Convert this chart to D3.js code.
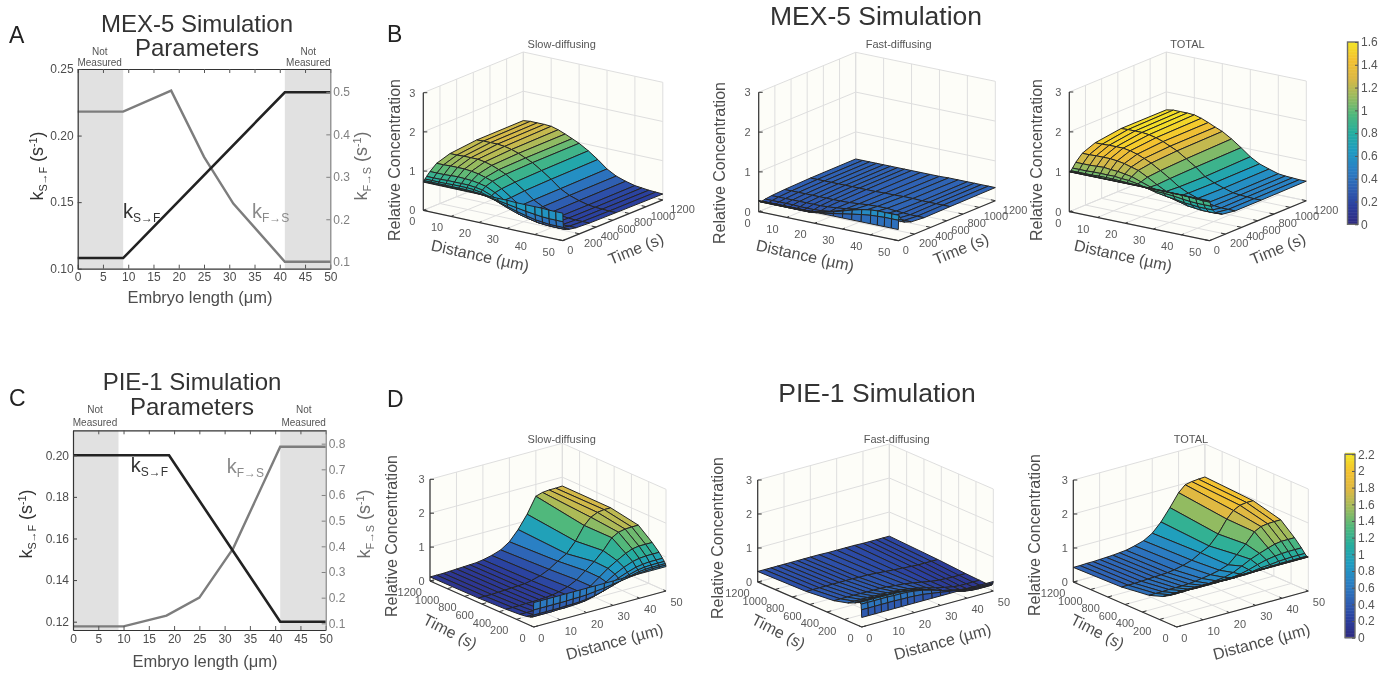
<!DOCTYPE html>
<html>
<head>
<meta charset="utf-8">
<title>MEX-5 and PIE-1 simulation</title>
<script src="https://cdn.jsdelivr.net/npm/d3@7"></script>
<style>
  html, body { margin: 0; background: #fff; }
  svg { display: block; font-family: "Liberation Sans", Arial, sans-serif; filter: blur(0.45px); }
</style>
</head>
<body>
<div id="chart"></div>
<script>
// Rate constants along the embryo (panels A and C)
const mexKsf = [[0, 0.108], [9, 0.108], [41, 0.2325], [50, 0.2325]];
const mexKfs = [[0, 0.4535], [9, 0.4535], [18.5, 0.503], [25, 0.347], [30.8, 0.237], [41, 0.1], [50, 0.1]];
const pieKsf = [[0, 0.2], [19, 0.2], [41, 0.12], [50, 0.12]];
const pieKfs = [[0, 0.088], [10, 0.088], [18.5, 0.13], [25, 0.2], [31.7, 0.392], [41, 0.788], [50, 0.788]];

// Surface grid: one row per time, one column per distance
const distances = [0, 2.5, 5, 7.5, 10, 12.5, 15, 17.5, 20, 23.3, 26.7, 30, 33.3, 36.7, 40, 42.5, 45, 47.5, 50];
const times = [0, 3, 8, 20, 40, 80, 160, 320, 640, 1200];

const mexSlow = [
  [.72,.72,.72,.72,.72,.72,.72,.72,.72,.72,.72,.72,.71,.71,.71,.71,.70,.70,.70],
  [.73,.73,.73,.73,.73,.73,.73,.73,.72,.70,.66,.62,.58,.54,.51,.49,.48,.48,.48],
  [.75,.75,.75,.75,.75,.75,.75,.74,.73,.68,.62,.55,.48,.42,.37,.35,.33,.33,.33],
  [.78,.78,.78,.78,.79,.79,.79,.78,.75,.68,.58,.49,.41,.35,.30,.28,.27,.27,.27],
  [.83,.83,.83,.84,.84,.84,.84,.82,.79,.70,.59,.47,.38,.32,.27,.26,.25,.25,.25],
  [.92,.92,.92,.93,.94,.93,.92,.89,.85,.74,.60,.45,.35,.28,.24,.23,.22,.22,.22],
  [1.06,1.06,1.07,1.07,1.07,1.05,1.02,.97,.91,.77,.60,.44,.33,.26,.21,.20,.19,.19,.19],
  [1.17,1.17,1.18,1.18,1.18,1.15,1.10,1.03,.95,.80,.63,.45,.33,.25,.20,.18,.17,.17,.17],
  [1.24,1.25,1.25,1.25,1.23,1.19,1.13,1.05,.97,.82,.65,.46,.34,.26,.20,.18,.17,.16,.16],
  [1.25,1.27,1.27,1.27,1.26,1.21,1.14,1.06,.98,.84,.67,.48,.35,.27,.21,.19,.17,.16,.15]
];
const mexFast = [
  [.28,.28,.28,.28,.28,.28,.28,.28,.28,.28,.28,.28,.28,.28,.28,.28,.28,.28,.28],
  [.27,.27,.27,.27,.27,.27,.27,.27,.28,.30,.34,.38,.42,.46,.49,.50,.51,.51,.51],
  [.25,.25,.25,.25,.25,.25,.25,.25,.27,.32,.38,.45,.52,.58,.62,.63,.63,.63,.63],
  [.23,.23,.23,.23,.23,.23,.23,.23,.25,.31,.38,.45,.51,.56,.58,.58,.58,.58,.58],
  [.23,.23,.23,.23,.23,.23,.23,.23,.25,.29,.35,.41,.46,.49,.50,.50,.49,.49,.49],
  [.25,.25,.25,.25,.25,.24,.24,.24,.25,.28,.34,.40,.43,.44,.42,.41,.40,.40,.40],
  [.27,.27,.27,.27,.27,.27,.27,.27,.28,.30,.33,.37,.38,.39,.38,.36,.35,.34,.34],
  [.29,.29,.29,.29,.29,.29,.29,.29,.29,.30,.32,.34,.35,.35,.33,.32,.31,.31,.31],
  [.31,.31,.31,.31,.31,.31,.31,.31,.31,.31,.32,.32,.33,.33,.32,.32,.32,.32,.32],
  [.32,.32,.32,.32,.32,.32,.32,.32,.32,.32,.32,.32,.33,.33,.33,.33,.33,.33,.33]
];
const mexTotal = [
  [1,1,1,1,1,1,1,1,1,1,1,1,1,1,1,1,1,1,1],
  [1,1,1,1,1,1,1,1,1,1,1,1,1,1,1,.99,.99,.99,.99],
  [1,1,1,1,1,1,1,1,1,1,1,1,1,.99,.99,.98,.97,.96,.96],
  [1.01,1.01,1.01,1.01,1.02,1.02,1.02,1.01,1,.99,.97,.94,.93,.91,.88,.86,.85,.85,.85],
  [1.06,1.06,1.06,1.07,1.07,1.07,1.07,1.05,1.04,1,.94,.88,.84,.81,.77,.76,.74,.74,.74],
  [1.17,1.17,1.17,1.18,1.19,1.17,1.16,1.13,1.10,1.02,.94,.85,.78,.72,.66,.64,.62,.62,.62],
  [1.33,1.33,1.34,1.34,1.34,1.32,1.29,1.24,1.19,1.07,.93,.81,.71,.65,.59,.56,.54,.53,.53],
  [1.46,1.46,1.47,1.47,1.47,1.44,1.39,1.32,1.24,1.10,.95,.79,.68,.60,.53,.50,.48,.48,.48],
  [1.55,1.56,1.56,1.56,1.54,1.50,1.44,1.36,1.28,1.13,.97,.78,.67,.59,.52,.50,.49,.48,.48],
  [1.55,1.58,1.58,1.58,1.57,1.52,1.45,1.37,1.30,1.16,.99,.81,.68,.60,.53,.51,.50,.49,.49]
];
const pieSlow = [
  [.72,.72,.72,.72,.72,.72,.72,.72,.72,.72,.72,.72,.72,.72,.72,.72,.72,.72,.72],
  [.50,.50,.50,.50,.50,.50,.51,.51,.52,.55,.58,.62,.66,.70,.73,.75,.76,.76,.76],
  [.34,.34,.34,.34,.34,.35,.35,.36,.38,.42,.49,.57,.65,.71,.77,.79,.80,.80,.80],
  [.27,.27,.27,.27,.28,.28,.29,.30,.32,.38,.46,.55,.65,.74,.81,.84,.85,.85,.85],
  [.25,.25,.25,.25,.26,.26,.27,.28,.30,.36,.45,.56,.69,.79,.87,.90,.92,.92,.92],
  [.22,.22,.22,.23,.23,.24,.25,.26,.29,.35,.46,.60,.76,.89,.99,1.03,1.05,1.05,1.05],
  [.19,.19,.19,.20,.20,.21,.22,.23,.27,.34,.46,.65,.84,1,1.14,1.22,1.25,1.25,1.25],
  [.16,.16,.16,.17,.17,.18,.19,.21,.25,.33,.46,.66,.86,1.11,1.42,1.53,1.57,1.58,1.58],
  [.13,.13,.13,.14,.15,.16,.17,.18,.22,.29,.41,.58,.73,1.03,1.42,1.61,1.70,1.73,1.73],
  [.12,.12,.12,.13,.14,.15,.16,.17,.20,.26,.35,.52,.81,1.19,1.65,1.71,1.73,1.73,1.74]
];
const pieFast = [
  [.28,.28,.28,.28,.28,.28,.28,.28,.28,.28,.28,.28,.28,.28,.28,.28,.28,.28,.28],
  [.50,.50,.50,.50,.50,.50,.49,.49,.48,.46,.42,.38,.34,.30,.27,.25,.24,.24,.24],
  [.66,.66,.66,.66,.66,.65,.65,.64,.62,.58,.51,.43,.35,.29,.23,.21,.20,.20,.20],
  [.70,.70,.70,.70,.69,.69,.68,.66,.63,.57,.49,.41,.32,.25,.19,.16,.15,.15,.15],
  [.68,.68,.68,.68,.67,.67,.66,.64,.61,.55,.47,.39,.30,.23,.17,.15,.14,.14,.14],
  [.62,.62,.62,.62,.61,.60,.59,.58,.56,.51,.44,.36,.28,.22,.16,.14,.13,.13,.13],
  [.53,.53,.53,.53,.52,.52,.51,.50,.49,.45,.40,.34,.27,.21,.16,.14,.14,.14,.14],
  [.42,.42,.42,.42,.42,.41,.41,.41,.40,.37,.35,.31,.26,.21,.18,.17,.16,.16,.16],
  [.34,.34,.34,.34,.34,.34,.34,.34,.33,.33,.31,.29,.27,.25,.23,.22,.22,.22,.22],
  [.31,.31,.31,.31,.31,.31,.31,.31,.31,.31,.30,.30,.30,.30,.29,.29,.29,.29,.29]
];
const pieTotal = [
  [1,1,1,1,1,1,1,1,1,1,1,1,1,1,1,1,1,1,1],
  [1,1,1,1,1,1,1,1,1,1,1,1,1,1,1,1,1,1,1],
  [1,1,1,1,1,1,1,1,1,1,1,1,1,1,1,1,1,1,1],
  [.97,.97,.97,.97,.97,.97,.97,.96,.95,.95,.95,.96,.97,.99,1,1,1,1,1],
  [.93,.93,.93,.93,.93,.93,.93,.92,.91,.91,.93,.95,.99,1.01,1.04,1.05,1.06,1.06,1.06],
  [.84,.84,.84,.85,.84,.84,.84,.84,.85,.86,.90,.96,1.04,1.11,1.15,1.17,1.18,1.18,1.18],
  [.72,.72,.72,.73,.72,.73,.73,.73,.76,.79,.86,.98,1.11,1.21,1.30,1.36,1.39,1.39,1.39],
  [.58,.58,.58,.59,.59,.59,.60,.62,.65,.69,.75,.84,1.07,1.31,1.60,1.70,1.73,1.74,1.74],
  [.47,.47,.47,.48,.49,.50,.51,.52,.55,.61,.69,.84,.97,1.25,1.62,1.82,1.92,1.95,1.95],
  [.43,.43,.44,.44,.45,.46,.47,.49,.51,.57,.65,.80,1.06,1.41,1.78,1.96,2,2.02,2.03]
];

// Tick labels
const distanceTicks = [0, 10, 20, 30, 40, 50];
const timeTicks = [0, 200, 400, 600, 800, 1000, 1200];
const concTicks = [0, 1, 2, 3];
const mexBarTicks = [0, 0.2, 0.4, 0.6, 0.8, 1, 1.2, 1.4, 1.6];
const pieBarTicks = [0, 0.2, 0.4, 0.6, 0.8, 1, 1.2, 1.4, 1.6, 1.8, 2, 2.2];

// Colour map of the surfaces and colour bars
const parula = ["#2f2a80", "#2b3f9e", "#2f62b4", "#2a80c4", "#1f9cc2", "#25ad9f", "#4fb87c", "#9bbb5e", "#dcb845", "#f4c12f", "#f3e626"];

const svg = d3.select("#chart").append("svg").attr("width", 1392).attr("height", 675);

const TEXT = "#4d4d4d";
const GREY = "#808080";

function subLabel(g, x, y, sub, tail, size, fill, rotate) {
  // k with a subscript, optionally followed by the unit
  const t = g.append("text")
    .attr("transform", "translate(" + x + "," + y + ")" + (rotate ? " rotate(-90)" : ""))
    .attr("text-anchor", rotate ? "middle" : "start")
    .attr("fill", fill)
    .style("font-size", size + "px");
  t.append("tspan").text("k");
  t.append("tspan").attr("dy", size * 0.2).style("font-size", size * 0.6 + "px").text(sub);
  if (tail) {
    t.append("tspan").attr("dy", -size * 0.2).text(" (s");
    t.append("tspan").attr("dy", -size * 0.32).style("font-size", size * 0.6 + "px").text("-1");
    t.append("tspan").attr("dy", size * 0.32).text(")");
  }
}

function drawParams(p) {
  const g = svg.append("g");
  const x = d3.scaleLinear().domain([0, 50]).range([p.left, p.right]);
  const yL = d3.scaleLinear().domain(p.leftDomain).range([p.bottom, p.top]);
  const yR = d3.scaleLinear().domain(p.rightDomain).range([p.bottom, p.top]);

  g.selectAll("rect.shade").data([[0, 9], [41, 50]]).join("rect")
    .attr("class", "shade")
    .attr("x", d => x(d[0])).attr("y", p.top)
    .attr("width", d => x(d[1]) - x(d[0])).attr("height", p.bottom - p.top)
    .attr("fill", "#e1e1e1");

  const lineL = d3.line().x(d => x(d[0])).y(d => yL(d[1]));
  const lineR = d3.line().x(d => x(d[0])).y(d => yR(d[1]));

  g.append("path").datum(p.fs).attr("d", lineR).attr("fill", "none").attr("stroke", "#7d7d7d").attr("stroke-width", 2.4);
  g.append("path").datum(p.sf).attr("d", lineL).attr("fill", "none").attr("stroke", "#222").attr("stroke-width", 2.6);

  const xAxis = d3.axisBottom(x).tickValues(d3.range(0, 51, 5)).tickSize(-4).tickSizeOuter(0).tickPadding(4);
  const gx = g.append("g").attr("transform", "translate(0," + p.bottom + ")").call(xAxis);
  gx.select(".domain").attr("stroke", "#333").attr("stroke-width", 1.2);
  gx.selectAll("line").attr("stroke", "#555");
  gx.selectAll("text").attr("fill", TEXT).style("font-size", "12px").attr("font-family", "inherit");

  const topAxis = d3.axisTop(x).tickValues(d3.range(0, 51, 5)).tickSize(-4).tickSizeOuter(0).tickFormat("");
  const gt = g.append("g").attr("transform", "translate(0," + p.top + ")").call(topAxis);
  gt.select(".domain").attr("stroke", "#333").attr("stroke-width", 1.2);
  gt.selectAll("line").attr("stroke", "#555");

  const leftAxis = d3.axisLeft(yL).tickValues(p.leftTicks).tickSize(-4).tickSizeOuter(0).tickPadding(4).tickFormat(d3.format(".2f"));
  const gl = g.append("g").attr("transform", "translate(" + p.left + ",0)").call(leftAxis);
  gl.select(".domain").attr("stroke", "#333").attr("stroke-width", 1.2);
  gl.selectAll("line").attr("stroke", "#444");
  gl.selectAll("text").attr("fill", TEXT).style("font-size", "12px").attr("font-family", "inherit");

  const rightAxis = d3.axisRight(yR).tickValues(p.rightTicks).tickSize(-4).tickSizeOuter(0).tickPadding(3).tickFormat(d3.format(".1f"));
  const gr = g.append("g").attr("transform", "translate(" + p.right + ",0)").call(rightAxis);
  gr.select(".domain").attr("stroke", GREY).attr("stroke-width", 1.2);
  gr.selectAll("line").attr("stroke", GREY);
  gr.selectAll("text").attr("fill", GREY).style("font-size", "12px").attr("font-family", "inherit");

  // Titles and labels
  g.append("text").attr("x", p.titleX).attr("y", p.titleY).attr("text-anchor", "middle").attr("fill", "#333")
    .style("font-size", "24px").text(p.title);
  g.append("text").attr("x", p.titleX).attr("y", p.titleY + 24.5).attr("text-anchor", "middle").attr("fill", "#333")
    .style("font-size", "24px").text("Parameters");
  g.append("text").attr("x", p.letterX).attr("y", p.letterY).attr("fill", "#222").style("font-size", "23px").text(p.letter);
  g.append("text").attr("x", p.xLabel[0]).attr("y", p.xLabel[1]).attr("text-anchor", "middle").attr("fill", TEXT)
    .style("font-size", "16.5px").text("Embryo length (\u03bcm)");

  [p.left + 22, p.right - 22].forEach(cx => {
    g.append("text").attr("x", cx).attr("y", p.notY[0]).attr("text-anchor", "middle").attr("fill", "#555").style("font-size", "10px").text("Not");
    g.append("text").attr("x", cx).attr("y", p.notY[1]).attr("text-anchor", "middle").attr("fill", "#555").style("font-size", "10px").text("Measured");
  });

  subLabel(g, p.leftLabel[0], p.leftLabel[1], "S\u2192F", true, 18, "#333", true);
  subLabel(g, p.rightLabel[0], p.rightLabel[1], "F\u2192S", true, 18, "#6e6e6e", true);
  subLabel(g, p.sfX, p.sfY, "S\u2192F", false, 20, "#333", false);
  subLabel(g, p.fsX, p.fsY, "F\u2192S", false, 20, "#8a8a8a", false);
}

function drawSurface(p) {
  const g = svg.append("g");
  const xD = d3.scaleLinear().domain([0, 50]).range([0, p.dVec[0]]);
  const yD = d3.scaleLinear().domain([0, 50]).range([0, p.dVec[1]]);
  const xT = d3.scaleLinear().domain([0, 1200]).range([0, p.tVec[0]]);
  const yT = d3.scaleLinear().domain([0, 1200]).range([0, p.tVec[1]]);
  const zS = d3.scaleLinear().domain([0, 3]).range([0, -p.zLen]);
  const color = d3.scaleLinear()
    .domain(parula.map((c, i) => i / (parula.length - 1) * p.colorMax))
    .range(parula).clamp(true);

  const px = (d, t) => p.base[0] + xD(d) + xT(t);
  const py = (d, t, z) => p.base[1] + yD(d) + yT(t) + zS(z);
  const pt = (d, t, z) => [px(d, t), py(d, t, z)];
  const line = d3.line();

  // Back walls
  const wallD = p.wallD;
  g.append("path").attr("d", line([pt(wallD, 0, 0), pt(wallD, 1200, 0), pt(wallD, 1200, 3), pt(wallD, 0, 3)]) + "Z").attr("fill", "#fdfdf8");
  g.append("path").attr("d", line([pt(0, 1200, 0), pt(50, 1200, 0), pt(50, 1200, 3), pt(0, 1200, 3)]) + "Z").attr("fill", "#fdfdf8");
  g.append("path").attr("d", line([pt(0, 0, 0), pt(50, 0, 0), pt(50, 1200, 0), pt(0, 1200, 0)]) + "Z").attr("fill", "#fdfdf8");

  // Grid lines
  const grid = [];
  distanceTicks.forEach(d => {
    grid.push([pt(d, 0, 0), pt(d, 1200, 0)]);
    grid.push([pt(d, 1200, 0), pt(d, 1200, 3)]);
  });
  timeTicks.forEach(t => {
    grid.push([pt(0, t, 0), pt(50, t, 0)]);
    grid.push([pt(wallD, t, 0), pt(wallD, t, 3)]);
  });
  concTicks.forEach(z => {
    grid.push([pt(0, 1200, z), pt(50, 1200, z)]);
    grid.push([pt(wallD, 0, z), pt(wallD, 1200, z)]);
  });
  g.append("g").selectAll("path").data(grid).join("path")
    .attr("d", line).attr("fill", "none").attr("stroke", "#dedede").attr("stroke-width", 1);

  // Axes in front
  const axes = [[pt(p.zAxisD, p.zAxisT, 0), pt(p.zAxisD, p.zAxisT, 3)], [pt(0, 0, 0), pt(50, 0, 0)], [pt(p.tAxisD, 0, 0), pt(p.tAxisD, 1200, 0)]];
  g.append("g").selectAll("path").data(axes).join("path")
    .attr("d", line).attr("fill", "none").attr("stroke", "#333").attr("stroke-width", 1.2);

  const ticks = [];
  distanceTicks.forEach(d => ticks.push([pt(d, 0, 0), pt(d, 30, 0)]));
  timeTicks.forEach(t => ticks.push([pt(p.tAxisD, t, 0), pt(p.tAxisD + (p.tAxisD ? -1.6 : 1.6), t, 0)]));
  g.append("g").selectAll("path").data(ticks).join("path")
    .attr("d", line).attr("fill", "none").attr("stroke", "#333").attr("stroke-width", 1);
  const zTicks = concTicks.map(z => [pt(p.zAxisD, p.zAxisT, z), [px(p.zAxisD, p.zAxisT) + 4, py(p.zAxisD, p.zAxisT, z)]]);
  g.append("g").selectAll("path").data(zTicks).join("path")
    .attr("d", line).attr("fill", "none").attr("stroke", "#333").attr("stroke-width", 1);

  // Surface faces, far ones first
  const faces = [];
  for (let i = 0; i < times.length - 1; i++) {
    for (let j = 0; j < distances.length - 1; j++) {
      const corners = [[j, i], [j + 1, i], [j + 1, i + 1], [j, i + 1]];
      const d0 = (distances[j] + distances[j + 1]) / 2;
      const t0 = (times[i] + times[i + 1]) / 2;
      faces.push({
        points: corners.map(c => pt(distances[c[0]], times[c[1]], p.values[c[1]][c[0]])),
        value: d3.mean(corners, c => p.values[c[1]][c[0]]),
        depth: yD(d0) + yT(t0)
      });
    }
  }
  faces.sort((a, b) => a.depth - b.depth);
  g.append("g").selectAll("path").data(faces).join("path")
    .attr("d", f => line(f.points) + "Z")
    .attr("fill", f => color(f.value))
    .attr("stroke", "#242424").attr("stroke-width", 1).attr("stroke-linejoin", "round");

  // Tick labels
  const tick = { fill: "#5a5a5a", size: "11px" };
  g.append("g").selectAll("text").data(distanceTicks).join("text")
    .attr("x", d => px(d, 0) + p.dLabel[0]).attr("y", d => py(d, 0, 0) + p.dLabel[1])
    .attr("text-anchor", p.dLabel[0] < 0 ? "end" : "start").attr("fill", tick.fill).style("font-size", tick.size).text(d => d);
  g.append("g").selectAll("text").data(timeTicks).join("text")
    .attr("x", t => px(p.tAxisD, t) + p.tLabel[0] + (t === 1200 ? p.lastNudge : 0)).attr("y", t => py(p.tAxisD, t, 0) + p.tLabel[1])
    .attr("text-anchor", p.tLabel[0] < 0 ? "end" : "start").attr("fill", tick.fill).style("font-size", tick.size).text(t => t);
  g.append("g").selectAll("text").data(concTicks).join("text")
    .attr("x", px(p.zAxisD, p.zAxisT) - p.zLabelGap).attr("y", z => py(p.zAxisD, p.zAxisT, z) + 4)
    .attr("text-anchor", "end").attr("fill", tick.fill).style("font-size", tick.size).text(z => z);

  // Axis titles
  g.append("text").attr("x", p.title[0]).attr("y", p.title[1]).attr("text-anchor", "middle").attr("fill", "#555")
    .style("font-size", "11px").text(p.name);
  g.append("text").attr("transform", "translate(" + p.zTitle[0] + "," + p.zTitle[1] + ") rotate(-90)").attr("text-anchor", "middle")
    .attr("fill", TEXT).style("font-size", "16px").text("Relative Concentration");
  g.append("text").attr("transform", "translate(" + p.dTitle[0] + "," + p.dTitle[1] + ") rotate(" + p.dTitle[2] + ")").attr("text-anchor", "middle")
    .attr("fill", TEXT).style("font-size", "16px").text("Distance (\u00b5m)");
  g.append("text").attr("transform", "translate(" + p.tTitle[0] + "," + p.tTitle[1] + ") rotate(" + p.tTitle[2] + ")").attr("text-anchor", "middle")
    .attr("fill", TEXT).style("font-size", "16px").text("Time (s)");
}

function drawColorbar(p) {
  const g = svg.append("g");
  const y = d3.scaleLinear().domain([0, p.max]).range([p.bottom, p.top]);
  const color = d3.scaleLinear()
    .domain(parula.map((c, i) => i / (parula.length - 1) * p.max))
    .range(parula);
  const steps = d3.range(0, p.max, p.max / 120);
  g.selectAll("rect.step").data(steps).join("rect")
    .attr("class", "step").attr("x", p.left).attr("width", p.width)
    .attr("y", d => y(d + p.max / 120)).attr("height", (p.bottom - p.top) / 120 + 0.5)
    .attr("fill", d => color(d));
  g.append("rect").attr("x", p.left).attr("y", p.top).attr("width", p.width).attr("height", p.bottom - p.top)
    .attr("fill", "none").attr("stroke", "#6b6b6b").attr("stroke-width", 1.4);
  const axis = d3.axisRight(y).tickValues(p.ticks).tickSize(-3).tickSizeOuter(0).tickPadding(3).tickFormat(d => d);
  const ga = g.append("g").attr("transform", "translate(" + (p.left + p.width) + ",0)").call(axis);
  ga.select(".domain").remove();
  ga.selectAll("line").attr("stroke", "#555");
  ga.selectAll("text").attr("fill", "#555").style("font-size", "12px").attr("font-family", "inherit");
}

drawParams({
  left: 77.7, right: 330.3, top: 69, bottom: 268.7,
  leftDomain: [0.1, 0.25], rightDomain: [0.0835, 0.554],
  leftTicks: [0.1, 0.15, 0.2, 0.25], rightTicks: [0.1, 0.2, 0.3, 0.4, 0.5],
  sf: mexKsf, fs: mexKfs, title: "MEX-5 Simulation", titleX: 197, titleY: 31.7,
  letter: "A", letterX: 9, letterY: 43, xLabel: [200, 303], notY: [55, 65.5],
  leftLabel: [43, 166], rightLabel: [367, 166],
  sfX: 123, sfY: 218, fsX: 252, fsY: 218
});
drawParams({
  left: 73, right: 325.7, top: 430.3, bottom: 630,
  leftDomain: [0.116, 0.212], rightDomain: [0.074, 0.852],
  leftTicks: [0.12, 0.14, 0.16, 0.18, 0.2], rightTicks: [0.1, 0.2, 0.3, 0.4, 0.5, 0.6, 0.7, 0.8],
  sf: pieKsf, fs: pieKfs, title: "PIE-1 Simulation", titleX: 192, titleY: 390,
  letter: "C", letterX: 9, letterY: 406, xLabel: [205, 667], notY: [412.7, 426],
  leftLabel: [32, 524], rightLabel: [370, 524],
  sfX: 130.7, sfY: 472, fsX: 226.7, fsY: 473
});

const mexView = { wallD: 0, zAxisD: 0, zAxisT: 0, tAxisD: 50, dLabel: [-8, 15], tLabel: [4.5, 13], zLabelGap: 8, lastNudge: 3 };
const pieView = { wallD: 50, zAxisD: 0, zAxisT: 1200, tAxisD: 0, dLabel: [4.5, 15], tLabel: [-8, 15], zLabelGap: 5.5, lastNudge: 0 };

drawSurface(Object.assign({}, mexView, {
  name: "Slow-diffusing", values: mexSlow, colorMax: 1.6,
  base: [423.3, 210.3], dVec: [139.5, 30.3], tVec: [100, -40.7], zLen: 117.6,
  title: [561.7, 48], zTitle: [400, 160], dTitle: [479, 261, 12.3], tTitle: [638, 254, -22]
}));
drawSurface(Object.assign({}, mexView, {
  name: "Fast-diffusing", values: mexFast, colorMax: 1.6,
  base: [758.7, 211.7], dVec: [139.6, 29], tVec: [97, -40], zLen: 119.4,
  title: [898.7, 48], zTitle: [725, 163], dTitle: [804, 261, 12.3], tTitle: [963, 254, -22]
}));
drawSurface(Object.assign({}, mexView, {
  name: "TOTAL", values: mexTotal, colorMax: 1.6,
  base: [1069.3, 211.7], dVec: [140, 29], tVec: [97, -40], zLen: 119.7,
  title: [1187.5, 48], zTitle: [1042, 160], dTitle: [1122, 261, 12.3], tTitle: [1280, 254, -22]
}));
drawSurface(Object.assign({}, pieView, {
  name: "Slow-diffusing", values: pieSlow, colorMax: 2.2,
  base: [533.7, 627], dVec: [132.3, -36], tVec: [-103.7, -46], zLen: 101.7,
  title: [561.7, 443], zTitle: [397, 536], dTitle: [616, 647, -15], tTitle: [447.7, 636.5, 27]
}));
drawSurface(Object.assign({}, pieView, {
  name: "Fast-diffusing", values: pieFast, colorMax: 2.2,
  base: [861.7, 627], dVec: [131.6, -36], tVec: [-104, -45], zLen: 102,
  title: [896.7, 443], zTitle: [723, 538], dTitle: [944, 647, -15], tTitle: [776, 636.5, 27]
}));
drawSurface(Object.assign({}, pieView, {
  name: "TOTAL", values: pieTotal, colorMax: 2.2,
  base: [1176.7, 627], dVec: [131.6, -36], tVec: [-103.4, -45], zLen: 102,
  title: [1191, 443], zTitle: [1040, 535], dTitle: [1263, 647, -15], tTitle: [1095, 636.5, 27]
}));

drawColorbar({ left: 1347.5, width: 10.5, top: 42, bottom: 224.3, max: 1.6, ticks: mexBarTicks });
drawColorbar({ left: 1345, width: 10, top: 454.3, bottom: 637.7, max: 2.2, ticks: pieBarTicks });

// Figure-level titles
svg.append("text").attr("x", 876).attr("y", 25).attr("text-anchor", "middle").attr("fill", "#333").style("font-size", "26.5px").text("MEX-5 Simulation");
svg.append("text").attr("x", 877).attr("y", 402).attr("text-anchor", "middle").attr("fill", "#333").style("font-size", "26.5px").text("PIE-1 Simulation");
svg.append("text").attr("x", 387).attr("y", 42).attr("fill", "#222").style("font-size", "23px").text("B");
svg.append("text").attr("x", 387).attr("y", 407).attr("fill", "#222").style("font-size", "23px").text("D");
</script>
</body>
</html>
